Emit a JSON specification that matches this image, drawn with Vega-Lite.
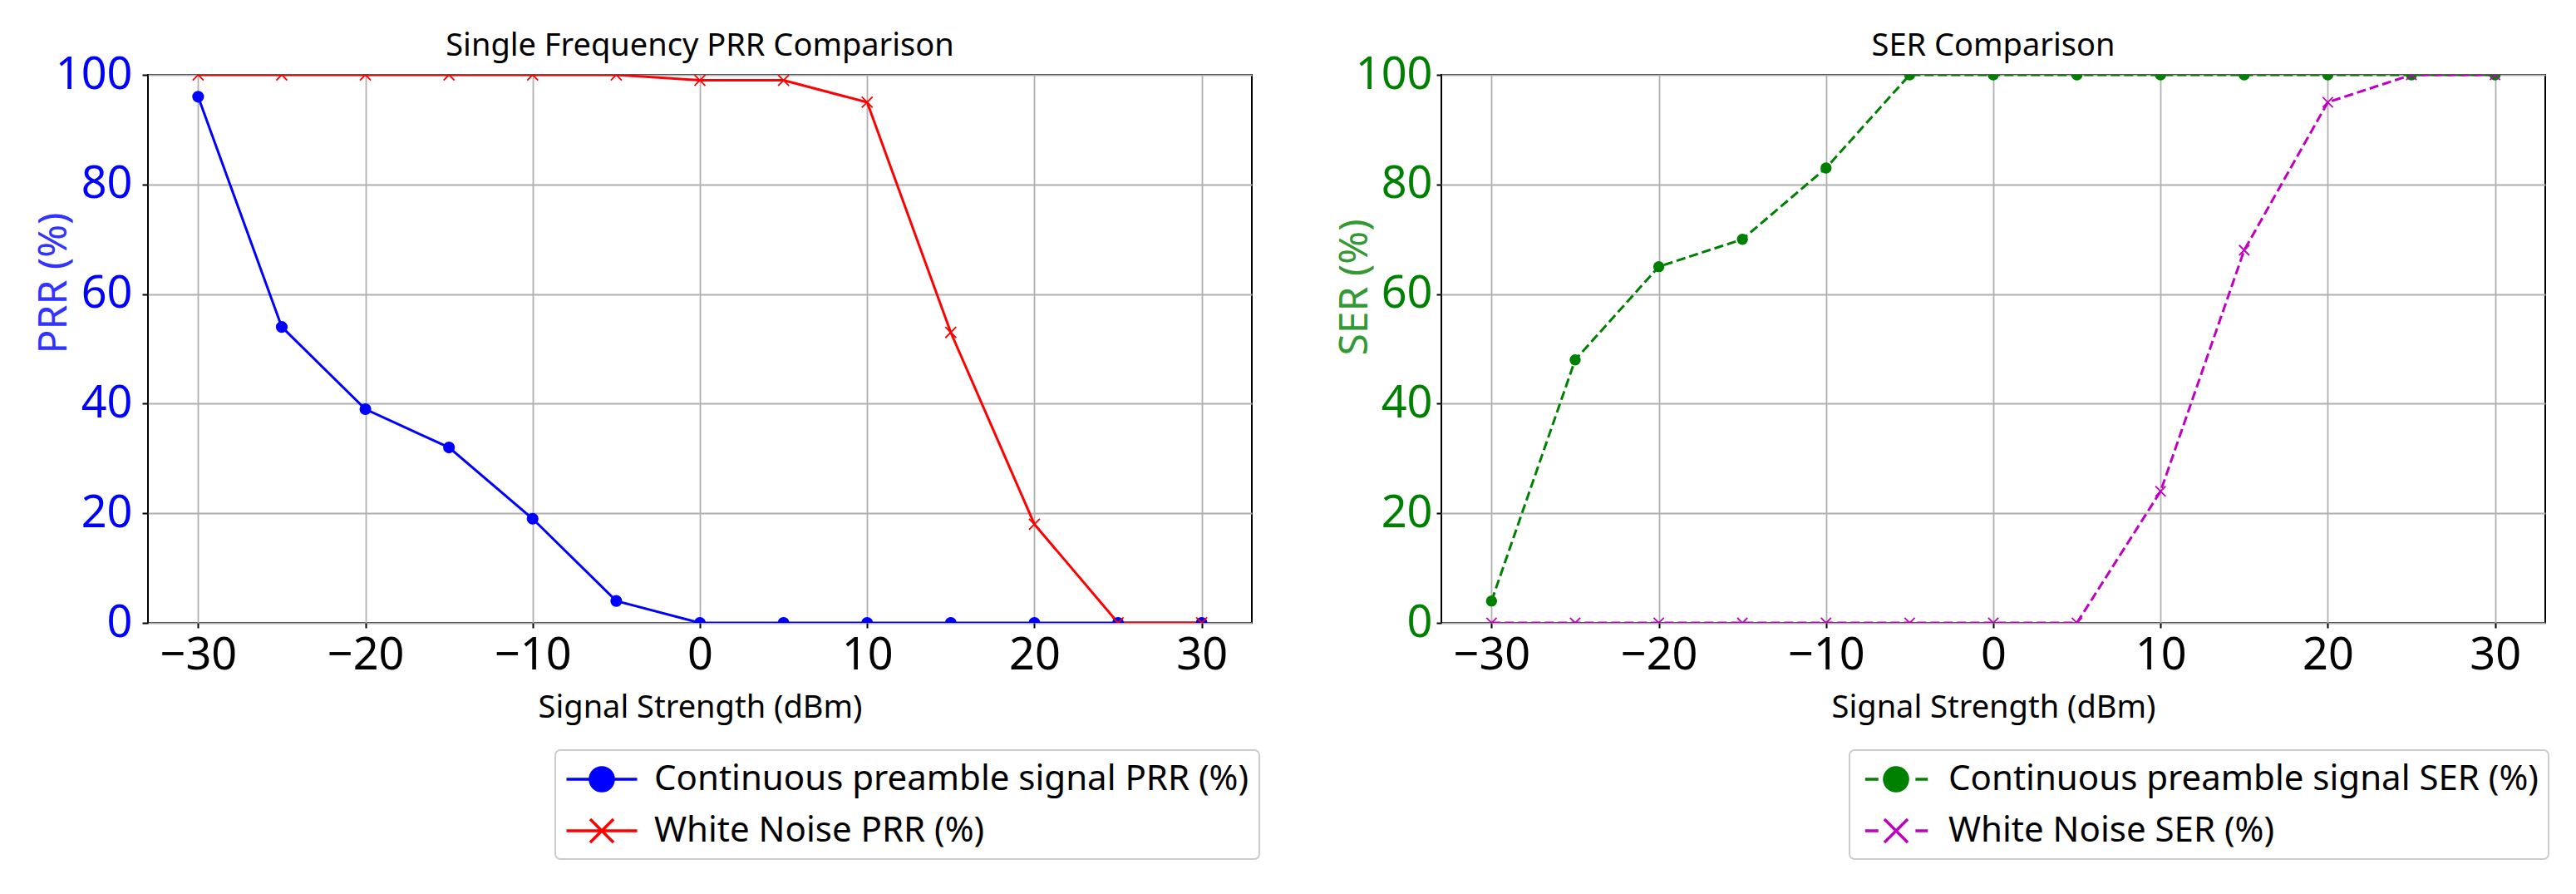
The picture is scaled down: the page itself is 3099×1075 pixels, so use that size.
{
  "$schema": "https://vega.github.io/schema/vega-lite/v6.json",
  "padding": {"left": 40, "top": 36, "right": 0, "bottom": 0},
  "datasets": {
    "prr": [
      {"strength": -30, "series": "Continuous preamble signal PRR (%)", "value": 96},
      {"strength": -25, "series": "Continuous preamble signal PRR (%)", "value": 54},
      {"strength": -20, "series": "Continuous preamble signal PRR (%)", "value": 39},
      {"strength": -15, "series": "Continuous preamble signal PRR (%)", "value": 32},
      {"strength": -10, "series": "Continuous preamble signal PRR (%)", "value": 19},
      {"strength": -5, "series": "Continuous preamble signal PRR (%)", "value": 4},
      {"strength": 0, "series": "Continuous preamble signal PRR (%)", "value": 0},
      {"strength": 5, "series": "Continuous preamble signal PRR (%)", "value": 0},
      {"strength": 10, "series": "Continuous preamble signal PRR (%)", "value": 0},
      {"strength": 15, "series": "Continuous preamble signal PRR (%)", "value": 0},
      {"strength": 20, "series": "Continuous preamble signal PRR (%)", "value": 0},
      {"strength": 25, "series": "Continuous preamble signal PRR (%)", "value": 0},
      {"strength": 30, "series": "Continuous preamble signal PRR (%)", "value": 0},
      {"strength": -30, "series": "White Noise PRR (%)", "value": 100},
      {"strength": -25, "series": "White Noise PRR (%)", "value": 100},
      {"strength": -20, "series": "White Noise PRR (%)", "value": 100},
      {"strength": -15, "series": "White Noise PRR (%)", "value": 100},
      {"strength": -10, "series": "White Noise PRR (%)", "value": 100},
      {"strength": -5, "series": "White Noise PRR (%)", "value": 100},
      {"strength": 0, "series": "White Noise PRR (%)", "value": 99},
      {"strength": 5, "series": "White Noise PRR (%)", "value": 99},
      {"strength": 10, "series": "White Noise PRR (%)", "value": 95},
      {"strength": 15, "series": "White Noise PRR (%)", "value": 53},
      {"strength": 20, "series": "White Noise PRR (%)", "value": 18},
      {"strength": 25, "series": "White Noise PRR (%)", "value": 0},
      {"strength": 30, "series": "White Noise PRR (%)", "value": 0}
    ],
    "ser": [
      {"strength": -30, "series": "Continuous preamble signal SER (%)", "value": 4},
      {"strength": -25, "series": "Continuous preamble signal SER (%)", "value": 48},
      {"strength": -20, "series": "Continuous preamble signal SER (%)", "value": 65},
      {"strength": -15, "series": "Continuous preamble signal SER (%)", "value": 70},
      {"strength": -10, "series": "Continuous preamble signal SER (%)", "value": 83},
      {"strength": -5, "series": "Continuous preamble signal SER (%)", "value": 100},
      {"strength": 0, "series": "Continuous preamble signal SER (%)", "value": 100},
      {"strength": 5, "series": "Continuous preamble signal SER (%)", "value": 100},
      {"strength": 10, "series": "Continuous preamble signal SER (%)", "value": 100},
      {"strength": 15, "series": "Continuous preamble signal SER (%)", "value": 100},
      {"strength": 20, "series": "Continuous preamble signal SER (%)", "value": 100},
      {"strength": 25, "series": "Continuous preamble signal SER (%)", "value": 100},
      {"strength": 30, "series": "Continuous preamble signal SER (%)", "value": 100},
      {"strength": -30, "series": "White Noise SER (%)", "value": 0},
      {"strength": -25, "series": "White Noise SER (%)", "value": 0},
      {"strength": -20, "series": "White Noise SER (%)", "value": 0},
      {"strength": -15, "series": "White Noise SER (%)", "value": 0},
      {"strength": -10, "series": "White Noise SER (%)", "value": 0},
      {"strength": -5, "series": "White Noise SER (%)", "value": 0},
      {"strength": 0, "series": "White Noise SER (%)", "value": 0},
      {"strength": 5, "series": "White Noise SER (%)", "value": 0},
      {"strength": 10, "series": "White Noise SER (%)", "value": 24},
      {"strength": 15, "series": "White Noise SER (%)", "value": 68},
      {"strength": 20, "series": "White Noise SER (%)", "value": 95},
      {"strength": 25, "series": "White Noise SER (%)", "value": 100},
      {"strength": 30, "series": "White Noise SER (%)", "value": 100}
    ]
  },
  "spacing": 88,
  "resolve": {"scale": {"color": "independent"}, "legend": {"color": "independent"}},
  "hconcat": [
    {
      "width": 1328,
      "height": 659,
      "title": "Single Frequency PRR Comparison",
      "data": {"name": "prr"},
      "encoding": {
        "x": {
          "field": "strength", "type": "quantitative",
          "scale": {"domain": [-33, 33], "nice": false, "zero": false},
          "axis": {"values": [-30, -20, -10, 0, 10, 20, 30], "title": "Signal Strength (dBm)", "titlePadding": 17, "tickSize": 6, "labelPadding": 6, "labelFlush": false}
        },
        "y": {
          "field": "value", "type": "quantitative",
          "scale": {"domain": [0, 100], "nice": false},
          "axis": {"values": [0, 20, 40, 60, 80, 100], "title": "PRR (%)", "titleColor": "#3333ff", "labelColor": "#0000ff", "titleFontSize": 48, "tickSize": 7, "labelPadding": 12, "titleX": -99, "titleY": 250, "titleBaseline": "alphabetic"}
        }
      },
      "layer": [
        {
          "mark": {"type": "line", "strokeWidth": 3, "clip": true},
          "encoding": {
            "color": {
              "field": "series", "type": "nominal",
              "scale": {"domain": ["Continuous preamble signal PRR (%)", "White Noise PRR (%)"], "range": ["#0000ff", "#ff0000"]},
              "legend": {
                "title": null, "orient": "none", "legendX": 490, "legendY": 812,
                "symbolSize": 1806, "symbolOffset": 21, "labelOffset": 40,
                "encoding": {
                  "symbols": {
                    "shape": {"value": {"expr": "datum.value === 'White Noise PRR (%)' ? 'M-2,0H2M-0.66,-0.66L0.66,0.66M-0.66,0.66L0.66,-0.66' : 'M-2,0H2M0.66,0A0.66,0.66,0,1,1,-0.66,0A0.66,0.66,0,1,1,0.66,0Z'"}},
                    "fill": {"value": {"expr": "datum.value === 'White Noise PRR (%)' ? 'transparent' : '#0000ff'"}},
                    "stroke": {"value": {"expr": "datum.value === 'White Noise PRR (%)' ? '#ff0000' : '#0000ff'"}},
                    "strokeWidth": {"value": 3.5},
                    "opacity": {"value": 1}
                  }
                }
              }
            }
          }
        },
        {
          "transform": [{"filter": "datum.series === 'Continuous preamble signal PRR (%)'"}],
          "mark": {"type": "point", "shape": "circle", "filled": true, "size": 200, "color": "#0000ff", "opacity": 1, "clip": true}
        },
        {
          "transform": [{"filter": "datum.series === 'White Noise PRR (%)'"}],
          "mark": {"type": "point", "shape": "M-1,-1L1,1M-1,1L1,-1", "filled": false, "size": 170, "color": "#ff0000", "strokeWidth": 1.8, "opacity": 1, "clip": true}
        }
      ]
    },
    {
      "width": 1328,
      "height": 659,
      "title": "SER Comparison",
      "data": {"name": "ser"},
      "encoding": {
        "x": {
          "field": "strength", "type": "quantitative",
          "scale": {"domain": [-33, 33], "nice": false, "zero": false},
          "axis": {"values": [-30, -20, -10, 0, 10, 20, 30], "title": "Signal Strength (dBm)", "titlePadding": 17, "tickSize": 6, "labelPadding": 6, "labelFlush": false}
        },
        "y": {
          "field": "value", "type": "quantitative",
          "scale": {"domain": [0, 100], "nice": false},
          "axis": {"values": [0, 20, 40, 60, 80, 100], "title": "SER (%)", "titleColor": "#339933", "labelColor": "#008000", "titleFontSize": 48, "tickSize": 6, "labelPadding": 5, "titleX": -90, "titleY": 255, "titleBaseline": "alphabetic"}
        }
      },
      "layer": [
        {
          "mark": {"type": "line", "strokeWidth": 3, "strokeDash": [11, 5], "clip": true},
          "encoding": {
            "color": {
              "field": "series", "type": "nominal",
              "scale": {"domain": ["Continuous preamble signal SER (%)", "White Noise SER (%)"], "range": ["#008000", "#bf00bf"]},
              "legend": {
                "title": null, "orient": "none", "legendX": 491, "legendY": 812,
                "symbolSize": 1806, "symbolOffset": 21, "labelOffset": 40,
                "encoding": {
                  "symbols": {
                    "shape": {"value": {"expr": "datum.value === 'White Noise SER (%)' ? 'M-1.75,0H-1M1.1,0H1.8M-0.66,-0.66L0.66,0.66M-0.66,0.66L0.66,-0.66' : 'M-1.75,0H-1M1.1,0H1.8M0.66,0A0.66,0.66,0,1,1,-0.66,0A0.66,0.66,0,1,1,0.66,0Z'"}},
                    "fill": {"value": {"expr": "datum.value === 'White Noise SER (%)' ? 'transparent' : '#008000'"}},
                    "stroke": {"value": {"expr": "datum.value === 'White Noise SER (%)' ? '#bf00bf' : '#008000'"}},
                    "strokeWidth": {"value": 3.5},
                    "strokeDash": {"value": [1, 0]},
                    "opacity": {"value": 1}
                  }
                }
              }
            }
          }
        },
        {
          "transform": [{"filter": "datum.series === 'Continuous preamble signal SER (%)'"}],
          "mark": {"type": "point", "shape": "circle", "filled": true, "size": 180, "color": "#008000", "opacity": 1, "clip": true}
        },
        {
          "transform": [{"filter": "datum.series === 'White Noise SER (%)'"}],
          "mark": {"type": "point", "shape": "M-1,-1L1,1M-1,1L1,-1", "filled": false, "size": 150, "color": "#bf00bf", "strokeWidth": 1.8, "opacity": 1, "clip": true}
        }
      ]
    }
  ],
  "config": {
    "font": "Noto Sans",
    "view": {"stroke": "black", "strokeWidth": 2},
    "title": {"font": "Noto Sans", "fontSize": 38, "fontWeight": "normal", "color": "black", "offset": -12},
    "axis": {
      "grid": true, "gridColor": "#b0b0b0", "gridWidth": 1.8, "gridOpacity": 1,
      "domain": false, "ticks": true, "tickColor": "black", "tickWidth": 2,
      "labelFont": "Noto Sans", "labelFontSize": 54, "labelColor": "black",
      "titleFont": "Noto Sans", "titleFontSize": 38, "titleFontWeight": "normal", "titleColor": "black"
    },
    "legend": {
      "labelFont": "Noto Sans", "labelFontSize": 42, "labelColor": "black", "labelLimit": 2000,
      "padding": 12, "rowPadding": 17,
      "strokeColor": "#cccccc", "fillColor": "white", "cornerRadius": 6, "strokeWidth": 2
    }
  }
}
